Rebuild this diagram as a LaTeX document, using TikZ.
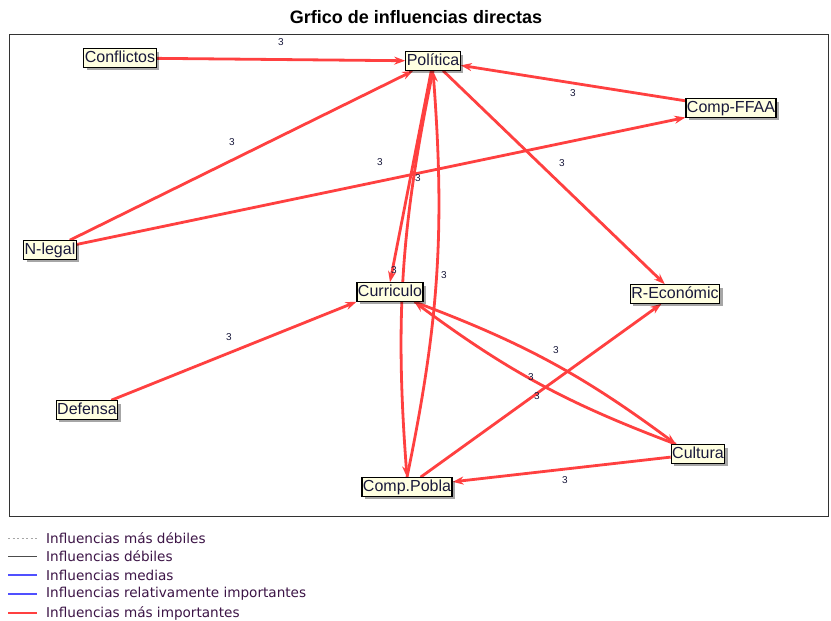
\documentclass[tikz,border=0pt]{standalone}
\usepackage{fontspec}
\setmainfont{Liberation Sans}
\newfontfamily\legfont{DejaVu Sans}
\usetikzlibrary{arrows.meta,shadows,calc}
\definecolor{edgered}{RGB}{255,64,64}
\definecolor{nodefill}{RGB}{255,255,225}
\definecolor{nodetext}{RGB}{25,25,60}
\definecolor{legtext}{RGB}{60,20,70}
\definecolor{legblue}{RGB}{80,80,255}
\pgfdeclarelayer{bg}
\pgfdeclarelayer{paper}
\pgfsetlayers{paper,bg,main}
\begin{document}
\begin{tikzpicture}[x=1pt,y=-1pt,
  box/.style={draw=black, line width=1.1pt, fill=nodefill, inner xsep=1pt, inner ysep=0pt,
    text height=12pt, text depth=3.5pt, minimum height=18.5pt,
    font=\fontsize{16}{18}\selectfont, text=nodetext,
    drop shadow={shadow xshift=3pt, shadow yshift=-3pt, fill=black, opacity=0.35}},
  inf/.style={draw=edgered, line width=2.8pt, -{Stealth[length=11pt,width=8pt]}},
  lbl/.style={font=\fontsize{10}{11}\selectfont, text=nodetext, inner sep=0pt},
  legtxt/.style={font=\legfont\fontsize{13.6}{15}\selectfont, text=legtext, anchor=west, inner sep=0pt}]
\useasboundingbox (0,0) rectangle (831,621);
\begin{pgfonlayer}{paper}
\fill[white] (0,0) rectangle (831,621);
\end{pgfonlayer}
\node[font=\bfseries\fontsize{18}{20}\selectfont] (title) at (416,17) {Grfico de influencias directas};
\draw[line width=1pt, draw=black!80] (9,34) rectangle (828,516);

% nodes
\node[box] (Conflictos) at (120,58) {Conflictos};
\node[box] (Politica) at (433,61) {Política};
\node[box] (CompFFAA) at (731,108) {Comp-FFAA};
\node[box] (Nlegal) at (50,250) {N-legal};
\node[box] (Curriculo) at (390,292) {Curriculo};
\node[box] (REconomic) at (675,294) {R-Económic};
\node[box] (Defensa) at (87,410) {Defensa};
\node[box] (Cultura) at (698,454) {Cultura};
\node[box] (CompPobla) at (407,487) {Comp.Pobla};

% edges
\begin{pgfonlayer}{bg}
\draw[inf] (Conflictos) -- (Politica);
\draw[inf] (Nlegal) -- (Politica);
\draw[inf] (Nlegal) -- (CompFFAA);
\draw[inf] (CompFFAA) -- (Politica);
\draw[inf] (Politica) -- (REconomic);
\draw[inf] (Politica.-100) -- (Curriculo.north);
\draw[inf] (Politica.south) to[bend right=8] (CompPobla.north);
\draw[inf] (CompPobla.north) to[bend right=8] (Politica.south);
\draw[inf] (Curriculo.-22) to[bend left=8] (Cultura.156);
\draw[inf] (Cultura.156) to[bend left=8] (Curriculo.-22);
\draw[inf] (Defensa) -- (Curriculo.south west);
\draw[inf] (CompPobla) -- (REconomic);
\draw[inf] (Cultura) -- (CompPobla);
\end{pgfonlayer}

% edge labels
\node[lbl] (l1) at (281,42) {3};
\node[lbl] (l2) at (232,142) {3};
\node[lbl] (l3) at (380,162) {3};
\node[lbl] (l4) at (573,93) {3};
\node[lbl] (l5) at (562,163) {3};
\node[lbl] (l6) at (418,178) {3};
\node[lbl] (l7) at (394,270) {3};
\node[lbl] (l8) at (444,275) {3};
\node[lbl] (l9) at (229,337) {3};
\node[lbl] (l10) at (556,350) {3};
\node[lbl] (l11) at (531,377) {3};
\node[lbl] (l12) at (537,396) {3};
\node[lbl] (l13) at (565,480) {3};

% legend
\draw[draw=black!35, line width=0.8pt, dash pattern=on 2pt off 2.5pt] (8,538) -- (37,538);
\draw[draw=black!70, line width=0.9pt] (8,556) -- (37,556);
\draw[draw=legblue, line width=1.1pt] (8,575) -- (37,575);
\draw[draw=legblue, line width=2.2pt] (8,594) -- (37,594);
\draw[draw=edgered, line width=2.6pt] (8,613) -- (37,613);
\node[legtxt] (k1) at (46,538) {Influencias más débiles};
\node[legtxt] (k2) at (46,556) {Influencias débiles};
\node[legtxt] (k3) at (46,575) {Influencias medias};
\node[legtxt] (k4) at (46,594) {Influencias relativamente importantes};
\node[legtxt] (k5) at (46,613) {Influencias más importantes};
\end{tikzpicture}
\end{document}
